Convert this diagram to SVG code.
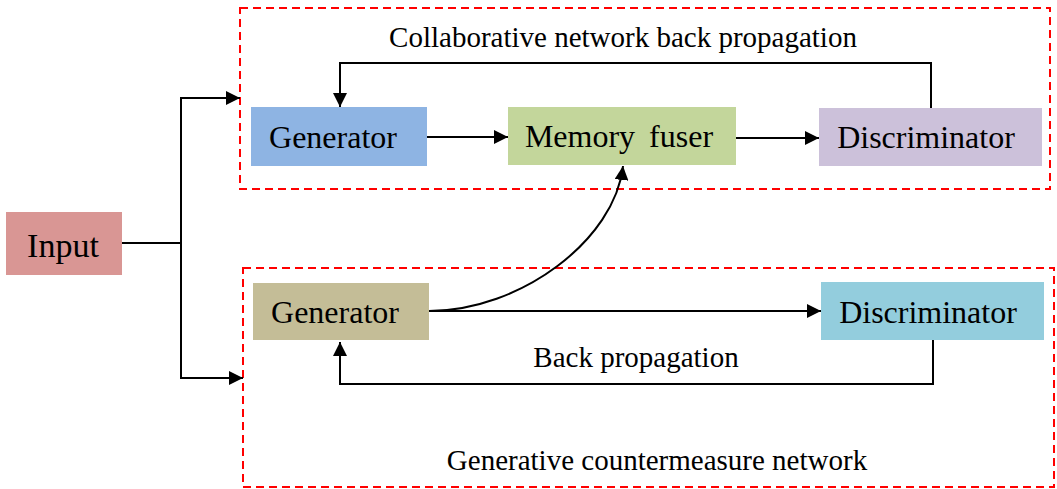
<svg xmlns="http://www.w3.org/2000/svg" width="1057" height="489" viewBox="0 0 1057 489">
<style>
  .t { font-family: "Liberation Serif", "Times New Roman", serif; fill: #000; text-anchor: middle; }
  .big { font-size: 32px; }
  .small { font-size: 29px; }
  .frame { fill: none; stroke: #FF0000; stroke-width: 2; stroke-dasharray: 8 5; }
  .edge { fill: none; stroke: #000; stroke-width: 2; }
  .arr { marker-end: url(#ah); }
</style>
<defs>
  <marker id="ah" viewBox="0 0 10 10" refX="10" refY="5" markerWidth="7" markerHeight="7" orient="auto" markerUnits="strokeWidth">
    <path d="M0,0 L10,5 L0,10 z" fill="#000"/>
  </marker>
</defs>
<rect width="1057" height="489" fill="#fff"/>

<g id="frames">
  <rect id="frame-collab" class="frame" x="240" y="8" width="810" height="181"/>
  <rect id="frame-gan" class="frame" x="243" y="268" width="811" height="219"/>
  <text class="t small" x="623" y="47">Collaborative network back propagation</text>
  <text class="t small" x="636" y="367">Back propagation</text>
  <text class="t small" x="657" y="470">Generative countermeasure network</text>
</g>

<g id="connectors">
  <path class="edge" d="M122,243 H181"/>
  <path class="edge arr" d="M181,243 V98 H240"/>
  <path class="edge arr" d="M181,243 V378 H243"/>
  <path class="edge arr" d="M427,137 H508"/>
  <path class="edge arr" d="M736,138 H819"/>
  <path class="edge arr" d="M931,108 V63 H340 V107"/>
  <path class="edge arr" d="M429,311 H821"/>
  <path class="edge arr" d="M429,311 C520,311 615,240 623,166"/>
  <path class="edge arr" d="M933,340 V384 H340 V342"/>
</g>

<g id="input">
  <rect x="6" y="212" width="116" height="63" fill="#D99694"/>
  <text class="t" style="font-size:34px" x="63" y="257">Input</text>
</g>
<g id="generator-top">
  <rect x="251" y="107" width="176" height="59" fill="#8EB4E3"/>
  <text class="t big" x="333" y="148">Generator</text>
</g>
<g id="memory-fuser">
  <rect x="508" y="107" width="228" height="58" fill="#C3D69B"/>
  <text class="t big" x="619" y="147" style="word-spacing:6px">Memory fuser</text>
</g>
<g id="discriminator-top">
  <rect x="819" y="108" width="223" height="58" fill="#CCC1DA"/>
  <text class="t big" x="926" y="148">Discriminator</text>
</g>
<g id="generator-bottom">
  <rect x="253" y="283" width="176" height="57" fill="#C4BD97"/>
  <text class="t big" x="335" y="323">Generator</text>
</g>
<g id="discriminator-bottom">
  <rect x="821" y="282" width="223" height="58" fill="#93CDDD"/>
  <text class="t big" x="928" y="323">Discriminator</text>
</g>
</svg>
